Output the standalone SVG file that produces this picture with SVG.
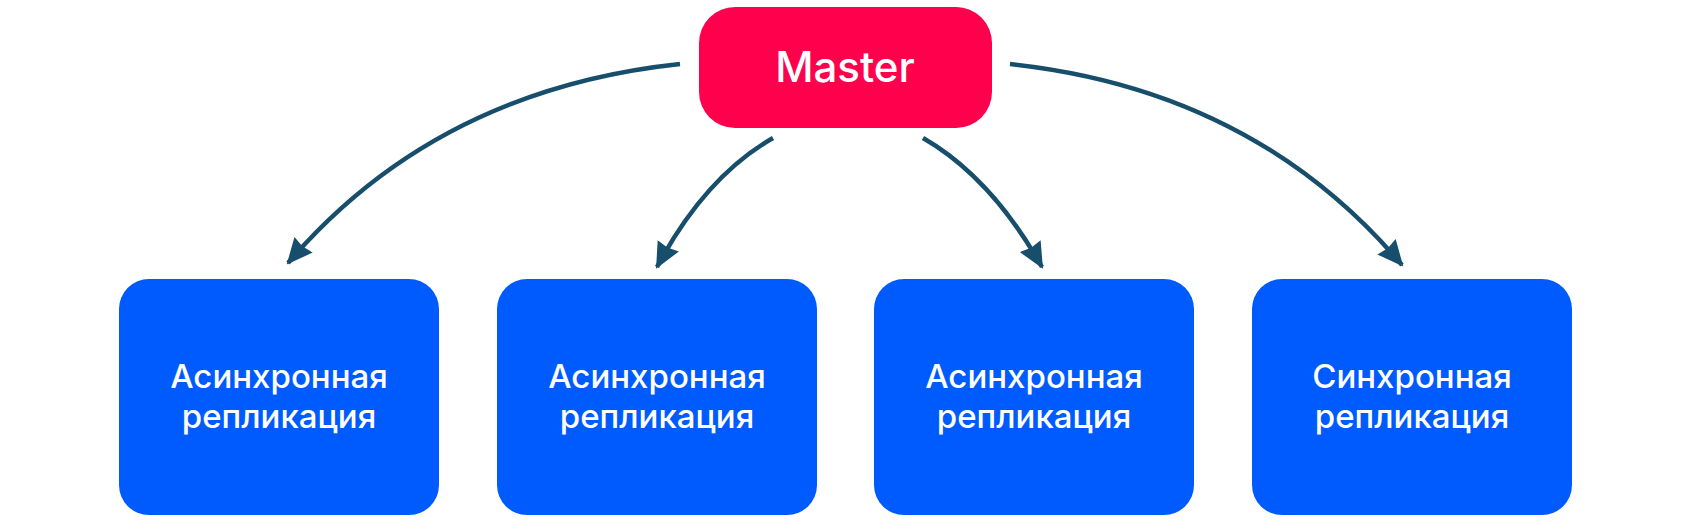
<svg xmlns="http://www.w3.org/2000/svg" width="1692" height="526" viewBox="0 0 1692 526">
<style>
.replica{fill:#005BFF}
.master{fill:#FF004D}
.lbl{fill:#FFFFFF;font-family:Inter,"Open Sans","Liberation Sans",sans-serif;font-weight:500;text-anchor:middle}
.conn{fill:none;stroke:#174E6C;stroke-width:4.5;marker-end:url(#ah)}
</style>
<defs>
<marker id="ah" markerUnits="userSpaceOnUse" markerWidth="26" markerHeight="26" viewBox="0 0 26 26" refX="24" refY="13" orient="auto">
<path d="M0,1 L26,13 L0,25 L2,13 Z" fill="#174E6C"/>
</marker>
</defs>
<rect width="1692" height="526" fill="#FFFFFF"/>
<g id="connectors">
<path class="conn" d="M680,64 Q436,90 288,263"/>
<path class="conn" d="M773,138 Q705,177 657,267"/>
<path class="conn" d="M923,138 Q991,177 1042,267"/>
<path class="conn" d="M1010,64 Q1254,90 1402,265"/>
</g>
<g id="master">
<rect class="master" x="699" y="7" width="293" height="121" rx="36"/>
<text class="lbl" x="845" y="82" font-size="42">Master</text>
</g>
<g id="replica1">
<rect class="replica" x="119" y="279" width="320" height="236" rx="30"/>
<text class="lbl" x="279" y="388" font-size="33">Асинхронная</text>
<text class="lbl" x="279" y="428" font-size="33">репликация</text>
</g>
<g id="replica2">
<rect class="replica" x="497" y="279" width="320" height="236" rx="30"/>
<text class="lbl" x="657" y="388" font-size="33">Асинхронная</text>
<text class="lbl" x="657" y="428" font-size="33">репликация</text>
</g>
<g id="replica3">
<rect class="replica" x="874" y="279" width="320" height="236" rx="30"/>
<text class="lbl" x="1034" y="388" font-size="33">Асинхронная</text>
<text class="lbl" x="1034" y="428" font-size="33">репликация</text>
</g>
<g id="replica4">
<rect class="replica" x="1252" y="279" width="320" height="236" rx="30"/>
<text class="lbl" x="1412" y="388" font-size="33">Синхронная</text>
<text class="lbl" x="1412" y="428" font-size="33">репликация</text>
</g>
</svg>
